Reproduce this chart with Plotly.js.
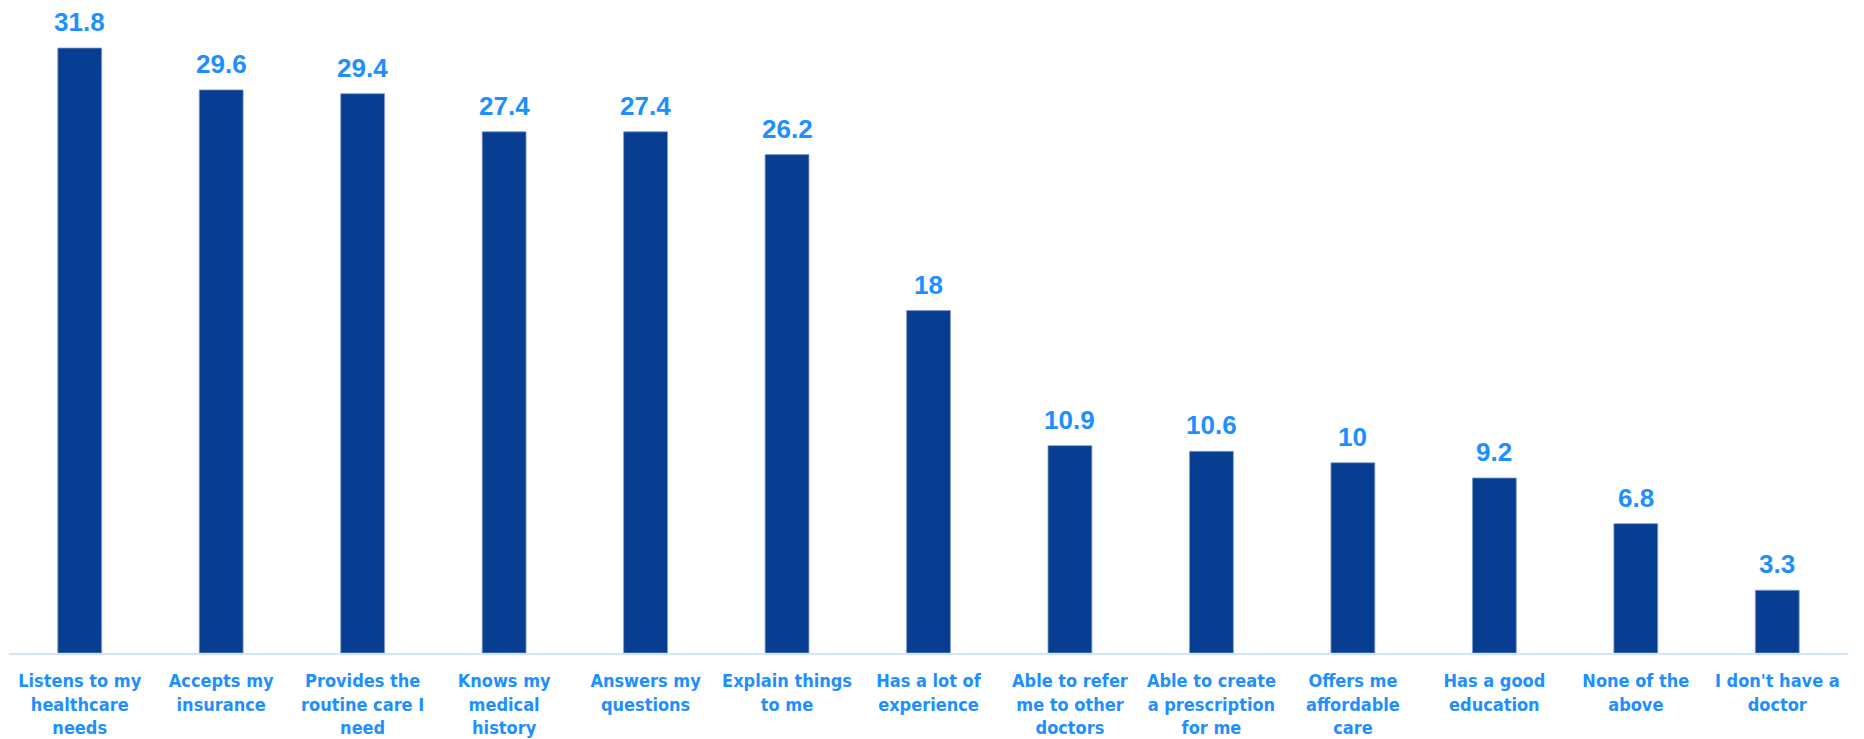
<!DOCTYPE html>
<html>
<head>
<meta charset="utf-8">
<script src="https://cdn.plot.ly/plotly-3.0.1.min.js"></script>
<style>html,body{margin:0;padding:0;background:#fff;}#chart{width:1864px;height:739px;}</style>
</head>
<body>
<div id="chart"></div>
<script>
const categories = [
  "Listens to my<br>healthcare<br>needs",
  "Accepts my<br>insurance",
  "Provides the<br>routine care I<br>need",
  "Knows my<br>medical<br>history",
  "Answers my<br>questions",
  "Explain things<br>to me",
  "Has a lot of<br>experience",
  "Able to refer<br>me to other<br>doctors",
  "Able to create<br>a prescription<br>for me",
  "Offers me<br>affordable<br>care",
  "Has a good<br>education",
  "None of the<br>above",
  "I don't have a<br>doctor"
];
const values = [31.8, 29.6, 29.4, 27.4, 27.4, 26.2, 18, 10.9, 10.6, 10, 9.2, 6.8, 3.3];

const labelColor = "#1E8FFF";
const barColor = "#083E91";
const tickFont = {family: "'Liberation Sans Narrow', 'Arial Narrow', 'DejaVu Sans Condensed', sans-serif", size: 18, color: labelColor, weight: 700};
const valueFont = {family: "'Liberation Sans', Arial, sans-serif", size: 26, color: labelColor, weight: 700};

const trace = {
  type: "bar",
  x: categories,
  y: values,
  marker: {color: barColor, line: {width: 0.8, color: "#7f9bcf"}},
  hoverinfo: "none"
};

const annotations = values.map((v, i) => ({
  x: categories[i], y: v, xref: "x", yref: "y",
  text: "<b>" + String(v) + "</b>", showarrow: false,
  yanchor: "bottom", yshift: 9, font: valueFont
}));

const layout = {
  width: 1864, height: 739,
  margin: {l: 9, r: 16, t: 10, b: 86},
  paper_bgcolor: "#fff", plot_bgcolor: "#fff",
  bargap: 0.69,
  showlegend: false,
  xaxis: {
    type: "category",
    showline: true, linecolor: "#CFE5FB", linewidth: 1.5,
    ticks: "", showgrid: false, zeroline: false,
    tickfont: tickFont, tickangle: 0, automargin: false,
    ticklabelstandoff: 11
  },
  yaxis: {
    range: [0, 33.8], visible: false, showgrid: false, zeroline: false
  },
  annotations: annotations
};

Plotly.newPlot("chart", [trace], layout, {displayModeBar: false, staticPlot: true});
</script>
</body>
</html>
